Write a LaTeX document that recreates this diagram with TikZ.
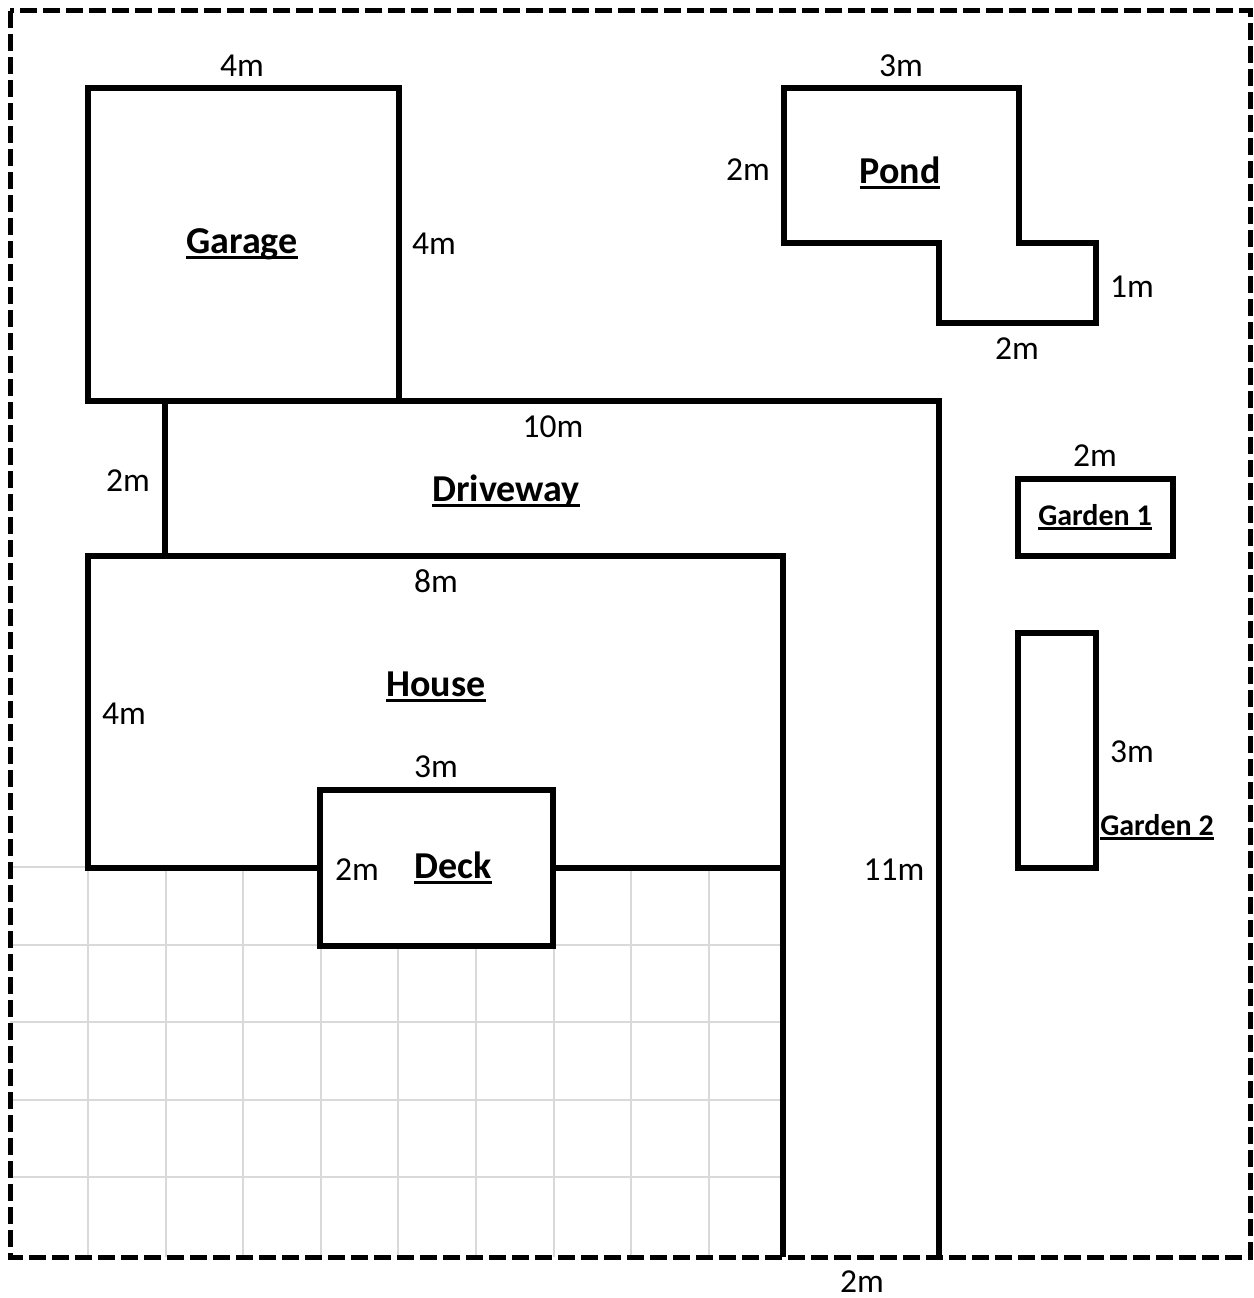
\documentclass[tikz,border=0pt]{standalone}
\usepackage{fontspec}
\setmainfont{Carlito}
\newcommand{\ulbox}[1]{\setbox0=\hbox{#1}\rlap{\rule[-0.16em]{\wd0}{0.08em}}\box0}

\begin{document}
\begin{tikzpicture}[x=1pt,y=-1pt,
  wall/.style={line width=5.5pt},
  gridline/.style={draw=black!15, line width=2pt},
  dim/.style={font=\fontsize{33.5}{40}\selectfont, anchor=base, inner sep=1pt},
  area/.style={font=\bfseries\fontsize{38}{45}\selectfont, anchor=base, inner sep=1pt},
  smallarea/.style={font=\bfseries\fontsize{30}{36}\selectfont, anchor=base, inner sep=1pt}]
  \useasboundingbox (0,0) rectangle (1253,1298);

  % Draw the paved grid in the lower left
  \foreach \i in {0,...,8}
    \draw[gridline] (88+77.6*\i,867) -- (88+77.6*\i,1257);
  \foreach \j in {0,...,4}
    \draw[gridline] (10,867+77.6*\j) -- (783,867+77.6*\j);

  % Property boundary
  \draw[line width=5pt, dash pattern=on 17pt off 6pt] (10,11) rectangle (1250,1257);

  % Garage, driveway and house
  \draw[wall] (88,88) rectangle (399,401);
  \draw[wall] (399,401) -- (939,401) -- (939,1257);
  \draw[wall] (165,401) -- (165,556);
  \draw[wall] (88,556) rectangle (783,868);
  \draw[wall] (783,868) -- (783,1257);
  \draw[wall, fill=white] (320,790) rectangle (553,946);

  % Pond and gardens
  \draw[wall] (784,88) -- (1019,88) -- (1019,243) -- (1096,243) -- (1096,323)
    -- (939,323) -- (939,243) -- (784,243) -- cycle;
  \draw[wall] (1018,479) rectangle (1173,556);
  \draw[wall] (1018,633) rectangle (1096,868);

  \node[dim] (garageW) at (242,77) {4m};
  \node[area] (garage) at (242,253) {\ulbox{Garage}};
  \node[dim] (garageH) at (434,254) {4m};

  \node[dim] (pondW) at (901,77) {3m};
  \node[dim] (pondH) at (748,180) {2m};
  \node[area] (pond) at (900,183) {\ulbox{Pond}};
  \node[dim] (pondS) at (1132,297) {1m};
  \node[dim] (pondB) at (1017,359) {2m};

  \node[dim] (drivewayW) at (553,437) {10m};
  \node[dim] (drivewayH) at (128,491) {2m};
  \node[area] (driveway) at (506,501) {\ulbox{Driveway}};
  \node[dim] (drivewayL) at (894,880) {11m};
  \node[dim] (drivewayB) at (862,1292) {2m};

  \node[dim] (houseW) at (436,592) {8m};
  \node[area] (house) at (436,696) {\ulbox{House}};
  \node[dim] (houseH) at (124,724) {4m};

  \node[dim] (deckW) at (436,777) {3m};
  \node[dim] (deckH) at (357,880) {2m};
  \node[area] (deck) at (453,878) {\ulbox{Deck}};

  \node[dim] (gardenAW) at (1095,466) {2m};
  \node[smallarea] (gardenA) at (1095,525) {\ulbox{Garden 1}};
  \node[dim] (gardenBH) at (1132,762) {3m};
  \node[smallarea] (gardenB) at (1157,835) {\ulbox{Garden 2}};
\end{tikzpicture}
\end{document}
